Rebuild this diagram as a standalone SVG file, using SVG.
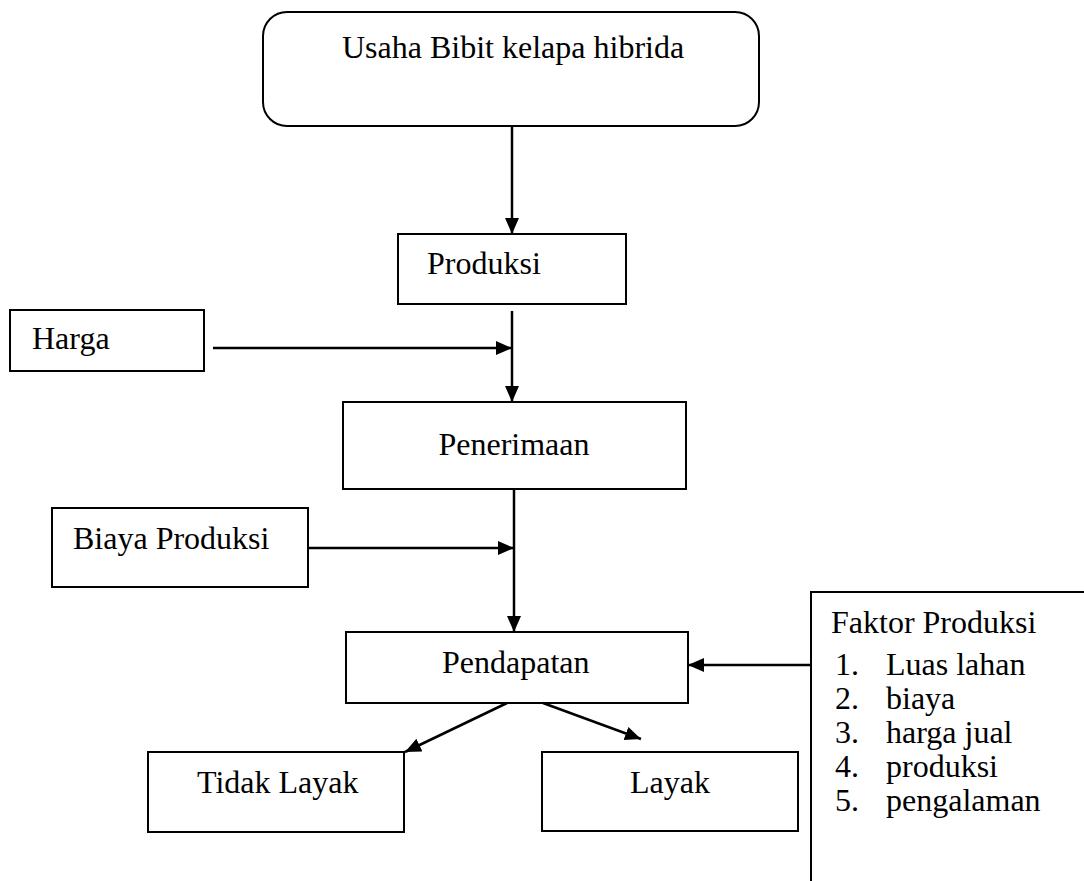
<svg xmlns="http://www.w3.org/2000/svg" width="1084" height="881" viewBox="0 0 1084 881">
<style>
.box{fill:#fff;stroke:#000;stroke-width:2}
.t{font-family:"Liberation Serif","Times New Roman",serif;font-size:32px;fill:#000}
.c{fill:none;stroke:#000;stroke-width:2.5}
</style>
<defs>
<marker id="ah" markerUnits="userSpaceOnUse" markerWidth="16" markerHeight="16" viewBox="0 0 16 16" refX="16" refY="8" orient="auto">
<path d="M0,1 L16,8 L0,15 Z" fill="#000"/>
</marker>
</defs>
<rect width="1084" height="881" fill="#fff"/>
<g id="n-usaha"><rect class="box" x="263" y="12" width="496" height="114" rx="24"/><text class="t" x="342" y="58">Usaha Bibit kelapa hibrida</text></g>
<g id="n-produksi"><rect class="box" x="398" y="234" width="228" height="70"/><text class="t" x="427" y="274">Produksi</text></g>
<g id="n-harga"><rect class="box" x="10" y="310" width="194" height="61"/><text class="t" x="32" y="349">Harga</text></g>
<g id="n-penerimaan"><rect class="box" x="343" y="402" width="343" height="87"/><text class="t" x="514" y="455" text-anchor="middle">Penerimaan</text></g>
<g id="n-biaya"><rect class="box" x="52" y="508" width="256" height="79"/><text class="t" x="73" y="549">Biaya Produksi</text></g>
<g id="n-pendapatan"><rect class="box" x="346" y="632" width="342" height="71"/><text class="t" x="442" y="673">Pendapatan</text></g>
<g id="n-faktor"><path class="box" d="M811,895 V592 H1100"/>
<text class="t" x="831" y="633">Faktor Produksi</text>
<text class="t" x="835" y="675">1.</text><text class="t" x="886" y="675">Luas lahan</text>
<text class="t" x="835" y="709">2.</text><text class="t" x="886" y="709">biaya</text>
<text class="t" x="835" y="743">3.</text><text class="t" x="886" y="743">harga jual</text>
<text class="t" x="835" y="777">4.</text><text class="t" x="886" y="777">produksi</text>
<text class="t" x="835" y="811">5.</text><text class="t" x="886" y="811">pengalaman</text>
</g>
<g id="n-tidak"><rect class="box" x="148" y="752" width="256" height="80"/><text class="t" x="197" y="793">Tidak Layak</text></g>
<g id="n-layak"><rect class="box" x="542" y="752" width="256" height="79"/><text class="t" x="630" y="793">Layak</text></g>
<g id="connectors">
<line class="c" x1="512" y1="126" x2="512" y2="234" marker-end="url(#ah)"/>
<line class="c" x1="512" y1="311" x2="512" y2="402" marker-end="url(#ah)"/>
<line class="c" x1="213" y1="348" x2="512" y2="348" marker-end="url(#ah)"/>
<line class="c" x1="514" y1="489" x2="514" y2="632" marker-end="url(#ah)"/>
<line class="c" x1="308" y1="548" x2="514" y2="548" marker-end="url(#ah)"/>
<line class="c" x1="811" y1="665" x2="688" y2="665" marker-end="url(#ah)"/>
<line class="c" x1="507" y1="703" x2="405" y2="752" marker-end="url(#ah)"/>
<line class="c" x1="543" y1="703" x2="641" y2="739" marker-end="url(#ah)"/>
</g>
</svg>
